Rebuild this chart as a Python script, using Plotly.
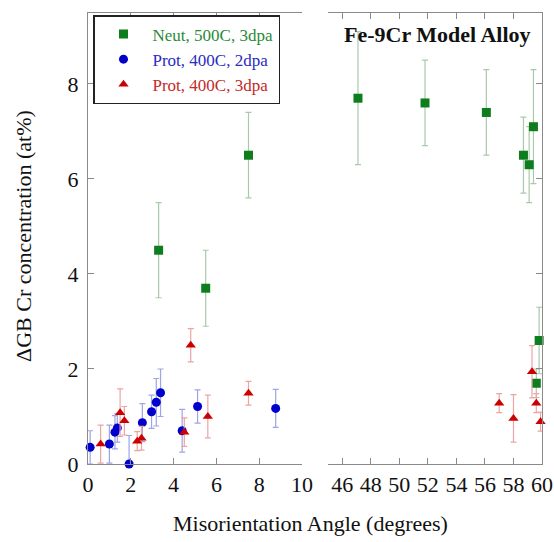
import plotly.graph_objects as go

# ---------------- data ----------------
neut_angle = [3.3, 5.5, 7.5, 47.1, 51.8, 56.1, 58.7, 59.1, 59.4, 59.6, 59.8]
neut_cr    = [4.5, 3.7, 6.5, 7.7, 7.6, 7.4, 6.5, 6.3, 7.1, 1.7, 2.6]
neut_err   = [1.0, 0.8, 0.9, 1.4, 0.9, 0.9, 0.8, 0.8, 1.2, 0.3, 0.7]

prot2_angle = [0.1, 1.0, 1.26, 1.37, 1.92, 2.54, 2.97, 3.19, 3.39, 4.4, 5.12, 8.77]
prot2_cr    = [0.35, 0.42, 0.67, 0.76, 0.0, 0.87, 1.10, 1.30, 1.50, 0.70, 1.21, 1.17]
prot2_err   = [0.35, 0.4, 0.35, 0.3, 0.6, 0.4, 0.35, 0.5, 0.5, 0.45, 0.35, 0.4]

prot3_angle = [0.59, 1.5, 1.7, 2.3, 2.5, 4.5, 4.8, 5.6, 7.5, 57.0, 58.0, 59.3, 59.6, 59.9]
prot3_cr    = [0.42, 1.08, 0.91, 0.48, 0.54, 0.67, 2.5, 1.0, 1.49, 1.28, 0.96, 1.94, 1.28, 0.89]
prot3_err   = [0.4, 0.5, 0.3, 0.2, 0.25, 0.3, 0.35, 0.45, 0.25, 0.2, 0.5, 0.55, 0.2, 0.2]

series_names = ["Neut, 500C, 3dpa", "Prot, 400C, 2dpa", "Prot, 400C, 3dpa"]
left_ticks = [0, 2, 4, 6, 8, 10]
right_ticks = [46, 48, 50, 52, 54, 56, 58, 60]
y_ticks = [0, 2, 4, 6, 8]

W, H = 554, 542
FONT = "Liberation Serif"

series = [
    (neut_angle, neut_cr, neut_err, series_names[0], "square", 9, "#0e7d1e", "#a9c9ab", "#2a8a38"),
    (prot2_angle, prot2_cr, prot2_err, series_names[1], "circle", 9, "#0000cc", "#9ea4e4", "#2b2bbf"),
    (prot3_angle, prot3_cr, prot3_err, series_names[2], "triangle-up", 9, "#cc0000", "#eca4a4", "#c42a2a"),
]

fig = go.Figure()
for ang, cr, err, name, sym, size, mcol, ecol, tcol in series:
    for panel in (0, 1):
        idx = [i for i, a in enumerate(ang) if (a < 30) == (panel == 0)]
        if not idx:
            continue
        fig.add_trace(go.Scatter(
            x=[ang[i] for i in idx], y=[cr[i] for i in idx],
            error_y=dict(type="data", array=[err[i] for i in idx], color=ecol,
                         thickness=1.2, width=3),
            mode="markers",
            marker=dict(symbol=sym, size=size, color=mcol),
            name=f"<span style='color:{tcol}'>{name}</span>",
            showlegend=(panel == 0),
            cliponaxis=False,
            xaxis="x" if panel == 0 else "x2",
            yaxis="y" if panel == 0 else "y2",
        ))

px = lambda v: v / W
py = lambda v: 1 - v / H

axis_common = dict(showline=True, linecolor="#8a8a8a", linewidth=1.2, showgrid=False,
                   zeroline=False, ticks="inside", ticklen=6, tickcolor="#8a8a8a",
                   automargin=False,
                   tickfont=dict(family=FONT, size=22, color="#111"))

fig.update_layout(
    width=W, height=H, margin=dict(l=0, r=0, t=0, b=0, autoexpand=False),
    paper_bgcolor="white", plot_bgcolor="white",
    font=dict(family=FONT, color="#111"),
    xaxis=dict(domain=[px(88), px(302)], range=[0, 10], tickvals=left_ticks,
               mirror="ticks", anchor="y", **axis_common),
    xaxis2=dict(domain=[px(328), px(542)], range=[45, 60], tickvals=right_ticks,
                mirror="ticks", anchor="y2", **axis_common),
    yaxis=dict(domain=[py(464), py(12.7)], range=[0, 9.5], tickvals=y_ticks,
               anchor="x", ticklabelstandoff=4, **axis_common),
    yaxis2=dict(domain=[py(464), py(12.7)], range=[0, 9.5], tickvals=y_ticks,
                anchor="x2", side="right", showticklabels=False, matches="y",
                **axis_common),
    legend=dict(x=px(93), y=py(15), xanchor="left", yanchor="top",
                bordercolor="#222", borderwidth=1.5, bgcolor="white",
                font=dict(family=FONT, size=17), itemwidth=48,
                tracegroupgap=0),
    showlegend=True,
    annotations=[
        dict(text="<b>Fe-9Cr Model Alloy</b>", x=px(437), y=py(34), xref="paper", yref="paper",
             xanchor="center", yanchor="middle",
             showarrow=False, font=dict(family=FONT, size=22, color="#111")),
        dict(text="Misorientation Angle (degrees)", x=px(310), y=py(523), xref="paper", yref="paper",
             xanchor="center", yanchor="middle",
             showarrow=False, font=dict(family=FONT, size=22, color="#111")),
        dict(text="ΔGB Cr concentration (at%)", x=px(23), y=py(236), xref="paper", yref="paper",
             xanchor="center", yanchor="middle",
             showarrow=False, textangle=-90, font=dict(family=FONT, size=22, color="#111")),
    ],
)

fig.write_html("out.html")
